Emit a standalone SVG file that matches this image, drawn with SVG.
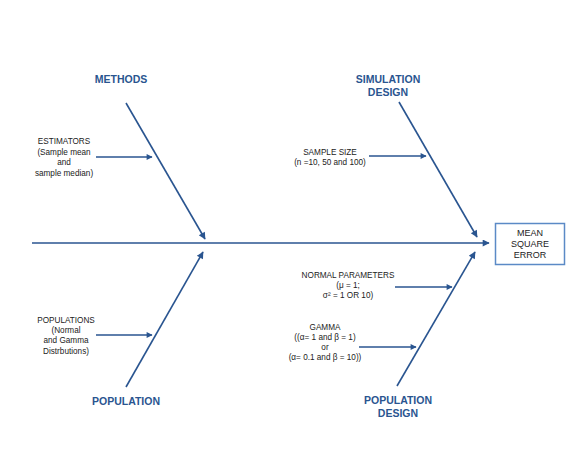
<svg xmlns="http://www.w3.org/2000/svg" width="581" height="449" viewBox="0 0 581 449">
<defs>
<marker id="ah" viewBox="0 0 10 10" refX="9" refY="5" markerWidth="7" markerHeight="6" markerUnits="userSpaceOnUse" orient="auto">
<path d="M0,0 L10,5 L0,10 z" fill="#2a5590"/>
</marker>
<marker id="ahb" viewBox="0 0 10 10" refX="9" refY="5" markerWidth="9" markerHeight="7" markerUnits="userSpaceOnUse" orient="auto">
<path d="M0,0 L10,5 L0,10 z" fill="#2a5590"/>
</marker>
</defs>
<style>
.ln{stroke:#2a5590;stroke-width:1.6;fill:none}
.bone{marker-end:url(#ahb)}
.sub{marker-end:url(#ah)}
.hd{font-family:"Liberation Sans",Arial,sans-serif;font-weight:bold;font-size:10.5px;fill:#2a5590;text-anchor:middle}
.sm{font-family:"Liberation Sans",Arial,sans-serif;font-size:8.2px;fill:#222;text-anchor:middle}
.bx{font-family:"Liberation Sans",Arial,sans-serif;font-size:9px;fill:#222;text-anchor:middle}
</style>
<rect width="581" height="449" fill="#fff"/>
<g id="connectors">
<line class="ln bone" x1="32" y1="243" x2="489" y2="243"/>
<line class="ln bone" x1="126" y1="103" x2="205" y2="239"/>
<line class="ln bone" x1="399" y1="102" x2="477" y2="237"/>
<line class="ln bone" x1="126" y1="387" x2="203" y2="252"/>
<line class="ln bone" x1="397" y1="386" x2="475" y2="252"/>
<line class="ln sub" x1="96" y1="157" x2="152" y2="157"/>
<line class="ln sub" x1="369" y1="156" x2="426" y2="156"/>
<line class="ln sub" x1="96" y1="335" x2="152" y2="335"/>
<line class="ln sub" x1="395" y1="287" x2="452" y2="287"/>
<line class="ln sub" x1="359" y1="347" x2="416" y2="347"/>
</g>
<g id="mse">
<rect x="495.5" y="223.5" width="69" height="41" fill="#fff" stroke="#5b8ac6" stroke-width="1.5"/>
<text class="bx" x="530" y="236">MEAN</text>
<text class="bx" x="530" y="247">SQUARE</text>
<text class="bx" x="530" y="258">ERROR</text>
</g>
<g id="methods"><text class="hd" x="121" y="83">METHODS</text></g>
<g id="simulation"><text class="hd" x="388" y="83">SIMULATION</text><text class="hd" x="388" y="96">DESIGN</text></g>
<g id="population"><text class="hd" x="126" y="405">POPULATION</text></g>
<g id="popdesign"><text class="hd" x="398" y="404">POPULATION</text><text class="hd" x="398" y="417">DESIGN</text></g>
<g id="estimators">
<text class="sm" x="64" y="144">ESTIMATORS</text>
<text class="sm" x="64" y="155">(Sample mean</text>
<text class="sm" x="64" y="165">and</text>
<text class="sm" x="64" y="176">sample median)</text>
</g>
<g id="samplesize">
<text class="sm" x="330" y="155">SAMPLE SIZE</text>
<text class="sm" x="330" y="165">(n =10, 50 and 100)</text>
</g>
<g id="populations">
<text class="sm" x="66" y="323">POPULATIONS</text>
<text class="sm" x="66" y="333">(Normal</text>
<text class="sm" x="66" y="343">and Gamma</text>
<text class="sm" x="66" y="354">Distrbutions)</text>
</g>
<g id="normal">
<text class="sm" x="348" y="278">NORMAL PARAMETERS</text>
<text class="sm" x="348" y="288">(μ = 1;</text>
<text class="sm" x="348" y="298">σ² = 1 OR 10)</text>
</g>
<g id="gamma">
<text class="sm" x="325" y="330">GAMMA</text>
<text class="sm" x="325" y="340">((α= 1 and β = 1)</text>
<text class="sm" x="325" y="350">or</text>
<text class="sm" x="325" y="360">(α= 0.1 and β = 10))</text>
</g>
</svg>
